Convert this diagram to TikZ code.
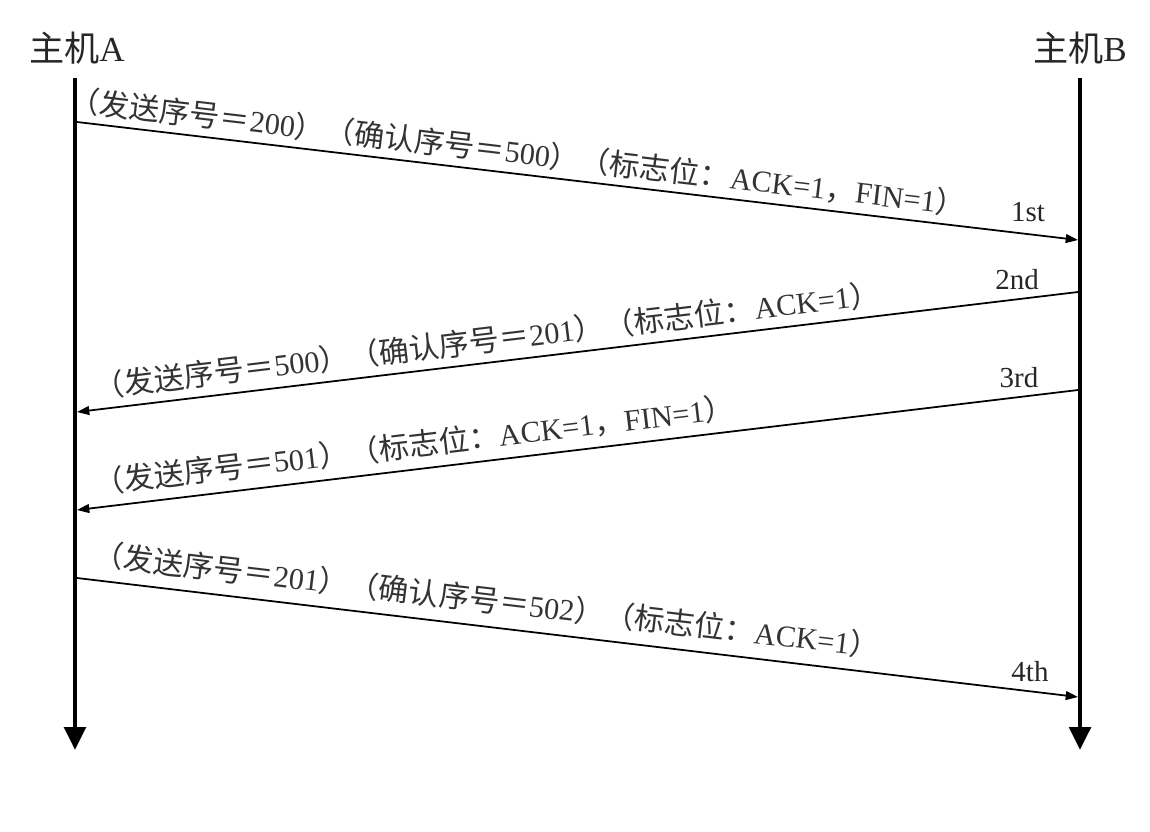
\documentclass[tikz,border=0pt]{standalone}
\usepackage{fontspec}
\setmainfont{Liberation Serif}
\newfontfamily\zhfont{Noto Sans CJK SC}
\newcommand{\zh}[1]{{\zhfont #1}}
\usetikzlibrary{arrows.meta}
\begin{document}
\begin{tikzpicture}[x=0.02cm,y=-0.02cm,
  timeline/.style={line width=2.8pt,-{Triangle[length=13pt,width=12pt]}},
  msg/.style={line width=1pt,-{Triangle[length=7pt,width=5pt]}},
  host/.style={font=\fontsize{20}{24}\selectfont,text=black!85},
  msglabel/.style={font=\fontsize{17.2}{20}\selectfont,text=black!80,inner sep=0pt},
  seqlabel/.style={font=\fontsize{16.5}{19}\selectfont,text=black!85,inner sep=0pt}]
\useasboundingbox (0,0) rectangle (1150,832);
% hosts
\node[host] (hA) at (77,48) {\zh{主机}A};
\node[host] (hB) at (1080,48) {\zh{主机}B};
% timelines
\coordinate (Atop) at (75,78);
\coordinate (Abot) at (75,750);
\coordinate (Btop) at (1080,78);
\coordinate (Bbot) at (1080,750);
\draw[timeline] (Atop) -- (Abot);
\draw[timeline] (Btop) -- (Bbot);
% message endpoints
\coordinate (m1s) at (77,122);
\coordinate (m1e) at (1078,240);
\coordinate (m2s) at (1078,292);
\coordinate (m2e) at (77,412);
\coordinate (m3s) at (1078,390);
\coordinate (m3e) at (77,510);
\coordinate (m4s) at (77,578);
\coordinate (m4e) at (1078,697);
\draw[msg] (m1s) -- (m1e);
\draw[msg] (m2s) -- (m2e);
\draw[msg] (m3s) -- (m3e);
\draw[msg] (m4s) -- (m4e);
% message labels
\node[msglabel,rotate=-6.7] (t1) at (518,152)
  {\zh{（发送序号＝}200\zh{）（确认序号＝}500\zh{）（标志位：}ACK=1\zh{，}FIN=1\zh{）}};
\node[msglabel,rotate=6.8] (t2) at (487,340)
  {\zh{（发送序号＝}500\zh{）（确认序号＝}201\zh{）（标志位：}ACK=1\zh{）}};
\node[msglabel,rotate=6.8] (t3) at (414,445)
  {\zh{（发送序号＝}501\zh{）（标志位：}ACK=1\zh{，}FIN=1\zh{）}};
\node[msglabel,rotate=-6.75] (t4) at (487,600)
  {\zh{（发送序号＝}201\zh{）（确认序号＝}502\zh{）（标志位：}ACK=1\zh{）}};
% sequence labels
\node[seqlabel] (s1) at (1028,212) {1st};
\node[seqlabel] (s2) at (1017,280) {2nd};
\node[seqlabel] (s3) at (1019,378) {3rd};
\node[seqlabel] (s4) at (1030,672) {4th};
\end{tikzpicture}
\end{document}
